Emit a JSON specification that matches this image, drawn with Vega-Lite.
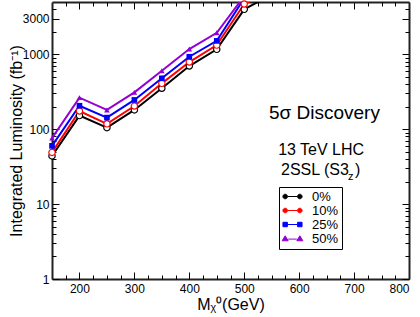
{
  "$schema": "https://vega.github.io/schema/vega-lite/v6.json",
  "width": 357,
  "height": 277,
  "autosize": "none",
  "padding": {"left": 52, "top": 2, "right": 11, "bottom": 38},
  "config": {
    "view": {"stroke": null},
    "font": "Liberation Sans",
    "axis": {"grid": false, "labelFont": "Liberation Sans", "titleFont": "Liberation Sans", "domainColor": "#222222", "domainWidth": 2, "tickColor": "#000000", "tickWidth": 1, "labelColor": "#000000", "titleColor": "#000000", "titleFontWeight": "normal"}
  },
  "data": {"values": [
    {"m": 150, "s": "0%", "L": 44}, {"m": 200, "s": "0%", "L": 152}, {"m": 250, "s": "0%", "L": 105}, {"m": 300, "s": "0%", "L": 181}, {"m": 350, "s": "0%", "L": 352}, {"m": 400, "s": "0%", "L": 698}, {"m": 450, "s": "0%", "L": 1166}, {"m": 500, "s": "0%", "L": 3990}, {"m": 550, "s": "0%", "L": 6300},
    {"m": 150, "s": "10%", "L": 49}, {"m": 200, "s": "10%", "L": 175}, {"m": 250, "s": "10%", "L": 118}, {"m": 300, "s": "10%", "L": 204}, {"m": 350, "s": "10%", "L": 410}, {"m": 400, "s": "10%", "L": 789}, {"m": 450, "s": "10%", "L": 1330}, {"m": 500, "s": "10%", "L": 4700}, {"m": 550, "s": "10%", "L": 7000},
    {"m": 150, "s": "25%", "L": 60}, {"m": 200, "s": "25%", "L": 206}, {"m": 250, "s": "25%", "L": 143}, {"m": 300, "s": "25%", "L": 246}, {"m": 350, "s": "25%", "L": 479}, {"m": 400, "s": "25%", "L": 929}, {"m": 450, "s": "25%", "L": 1513}, {"m": 500, "s": "25%", "L": 5600}, {"m": 550, "s": "25%", "L": 8000},
    {"m": 150, "s": "50%", "L": 76}, {"m": 200, "s": "50%", "L": 264}, {"m": 250, "s": "50%", "L": 181}, {"m": 300, "s": "50%", "L": 311}, {"m": 350, "s": "50%", "L": 604}, {"m": 400, "s": "50%", "L": 1178}, {"m": 450, "s": "50%", "L": 1941}, {"m": 500, "s": "50%", "L": 6000}, {"m": 550, "s": "50%", "L": 9000}
  ]},
  "resolve": {"axis": {"x": "independent", "y": "independent"}},
  "layer": [
    {
      "mark": {"type": "line", "clip": true, "strokeWidth": 2},
      "encoding": {
        "x": {"field": "m", "type": "quantitative", "scale": {"domain": [150, 800], "nice": false, "zero": false},
          "axis": {"orient": "bottom", "values": [200, 300, 400, 500, 600, 700, 800], "ticks": false, "labelPadding": 4, "labelFontSize": 12, "title": "Mᵪ⁰(GeV)", "titleFontSize": 16, "titlePadding": 2}},
        "y": {"field": "L", "type": "quantitative", "scale": {"type": "log", "domain": [1, 5000], "nice": false},
          "axis": {"orient": "left", "values": [1, 10, 100, 1000, 3000], "format": "d", "ticks": false, "labelPadding": 3, "labelFontSize": 12, "title": "Integrated Luminosity (fb⁻¹)", "titleFontSize": 16, "titlePadding": -2}},
        "color": {"field": "s", "type": "nominal",
          "scale": {"domain": ["0%", "10%", "25%", "50%"], "range": ["#000000", "#ff0000", "#0000ff", "#9400d3"]},
          "legend": {
            "orient": "none", "legendX": 227, "legendY": 185, "title": null,
            "strokeColor": "#000000", "fillColor": "#ffffff", "padding": 3,
            "symbolSize": 144, "symbolStrokeWidth": 1, "symbolOffset": 4, "labelFontSize": 13, "labelFont": "Liberation Sans", "labelColor": "#000000",
            "labelOffset": 13, "rowPadding": -2,
            "encode": {"symbols": {"update": {
              "shape": {"signal": "(datum.value === '0%' || datum.value === '10%') ? 'M-1.6,0A0.38,0.38,0,1,1,-0.84,0A0.38,0.38,0,1,1,-1.6,0M-0.84,0L0.84,0M0.84,0A0.38,0.38,0,1,1,1.6,0A0.38,0.38,0,1,1,0.84,0' : (datum.value === '25%' ? 'M-1.59,-0.37L-0.85,-0.37L-0.85,0.37L-1.59,0.37ZM-0.85,0L0.85,0M0.85,-0.37L1.59,-0.37L1.59,0.37L0.85,0.37Z' : 'M-1.22,-0.45L-1.72,0.38L-0.72,0.38ZM-0.72,0.1L0.72,0.1M1.22,-0.45L1.72,0.38L0.72,0.38Z')"},
              "fill": {"signal": "datum.value === '25%' ? '#0000ff' : (datum.value === '50%' ? '#9400d3' : '#ffffff')"}
            }}}
          }}
      }
    },
    {
      "transform": [{"filter": "(datum.s === '0%' || datum.s === '10%') && datum.L <= 5000"}],
      "mark": {"type": "point", "shape": "circle", "filled": true, "fill": "#ffffff", "strokeWidth": 1.2, "size": 40, "opacity": 1},
      "encoding": {
        "x": {"field": "m", "type": "quantitative", "axis": {"orient": "bottom", "values": [200, 300, 400, 500, 600, 700, 800], "labels": false, "domain": false, "tickSize": -7, "title": null}},
        "y": {"field": "L", "type": "quantitative", "axis": {"orient": "left", "values": [1, 10, 100, 1000, 3000], "labels": false, "domain": false, "tickSize": -7, "title": null}},
        "stroke": {"field": "s", "type": "nominal", "scale": {"domain": ["0%", "10%"], "range": ["#000000", "#ff0000"]}, "legend": null}
      }
    },
    {
      "transform": [{"filter": "(datum.s === '25%' || datum.s === '50%') && datum.L <= 5000"}],
      "mark": {"type": "point", "filled": true, "size": 32, "opacity": 1},
      "encoding": {
        "x": {"field": "m", "type": "quantitative", "axis": {"orient": "bottom", "values": [175, 225, 250, 275, 325, 350, 375, 425, 450, 475, 525, 550, 575, 625, 650, 675, 725, 750, 775], "labels": false, "domain": false, "tickSize": -4, "title": null}},
        "y": {"field": "L", "type": "quantitative", "axis": {"orient": "left", "values": [2, 3, 4, 5, 6, 7, 8, 9, 20, 30, 40, 50, 60, 70, 80, 90, 200, 300, 400, 500, 600, 700, 800, 900, 2000, 4000], "labels": false, "domain": false, "tickSize": -4, "title": null}},
        "color": {"field": "s", "type": "nominal", "legend": null},
        "shape": {"field": "s", "type": "nominal", "scale": {"domain": ["25%", "50%"], "range": ["square", "triangle-up"]}, "legend": null}
      }
    },
    {
      "mark": {"type": "point", "opacity": 0},
      "encoding": {
        "x": {"field": "m", "type": "quantitative", "axis": {"orient": "top", "values": [200, 300, 400, 500, 600, 700, 800], "labels": false, "tickSize": -7, "title": null}},
        "y": {"field": "L", "type": "quantitative", "axis": {"orient": "right", "values": [1, 10, 100, 1000, 3000], "labels": false, "tickSize": -7, "title": null}}
      }
    },
    {
      "mark": {"type": "point", "opacity": 0},
      "encoding": {
        "x": {"field": "m", "type": "quantitative", "axis": {"orient": "top", "values": [175, 225, 250, 275, 325, 350, 375, 425, 450, 475, 525, 550, 575, 625, 650, 675, 725, 750, 775], "labels": false, "domain": false, "tickSize": -4, "title": null}},
        "y": {"field": "L", "type": "quantitative", "axis": {"orient": "right", "values": [2, 3, 4, 5, 6, 7, 8, 9, 20, 30, 40, 50, 60, 70, 80, 90, 200, 300, 400, 500, 600, 700, 800, 900, 2000, 4000], "labels": false, "domain": false, "tickSize": -4, "title": null}}
      }
    },
    {
      "data": {"values": [{}]},
      "mark": {"type": "text", "text": "5σ Discovery", "fontSize": 19, "font": "Liberation Sans", "align": "center", "baseline": "alphabetic", "color": "#000000"},
      "encoding": {"x": {"datum": 646, "type": "quantitative", "axis": null}, "y": {"datum": 137, "type": "quantitative", "axis": null}}
    },
    {
      "data": {"values": [{}]},
      "mark": {"type": "text", "text": "13 TeV LHC", "fontSize": 16, "font": "Liberation Sans", "align": "center", "baseline": "alphabetic", "color": "#000000"},
      "encoding": {"x": {"datum": 640, "type": "quantitative", "axis": null}, "y": {"datum": 45.3, "type": "quantitative", "axis": null}}
    },
    {
      "data": {"values": [{}]},
      "mark": {"type": "text", "text": "2SSL (S3", "fontSize": 16, "font": "Liberation Sans", "align": "left", "baseline": "alphabetic", "color": "#000000"},
      "encoding": {"x": {"datum": 567, "type": "quantitative", "axis": null}, "y": {"datum": 24.8, "type": "quantitative", "axis": null}}
    },
    {
      "data": {"values": [{}]},
      "mark": {"type": "text", "text": "z", "fontSize": 11, "font": "Liberation Sans", "align": "left", "baseline": "alphabetic", "dx": 67, "dy": 5, "color": "#000000"},
      "encoding": {"x": {"datum": 567, "type": "quantitative", "axis": null}, "y": {"datum": 24.8, "type": "quantitative", "axis": null}}
    },
    {
      "data": {"values": [{}]},
      "mark": {"type": "text", "text": ")", "fontSize": 16, "font": "Liberation Sans", "align": "left", "baseline": "alphabetic", "dx": 74, "color": "#000000"},
      "encoding": {"x": {"datum": 567, "type": "quantitative", "axis": null}, "y": {"datum": 24.8, "type": "quantitative", "axis": null}}
    }
  ]
}
